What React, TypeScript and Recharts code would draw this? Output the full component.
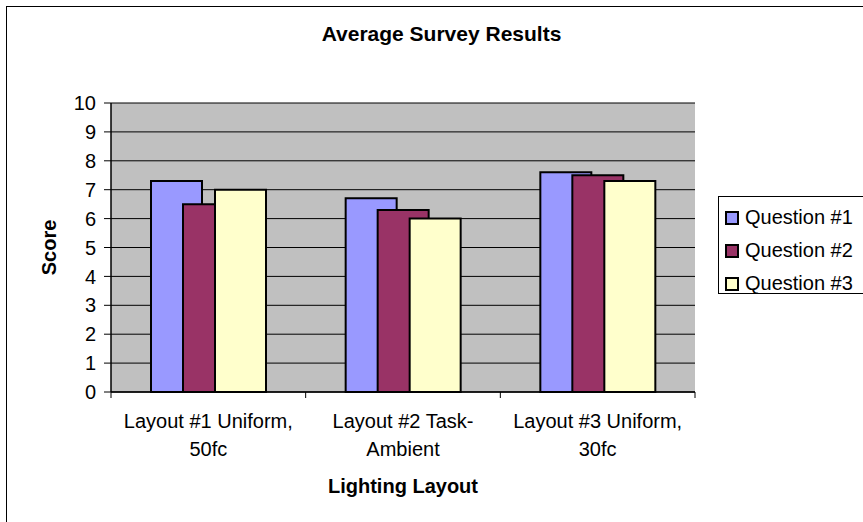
import React from 'react';
import { BarChart, Bar, XAxis, YAxis, CartesianGrid, Legend } from 'recharts';

const layouts = ['Layout #1 Uniform, 50fc', 'Layout #2 Task-Ambient', 'Layout #3 Uniform, 30fc'];
const layoutLines = [
  ['Layout #1 Uniform,', '50fc'],
  ['Layout #2 Task-', 'Ambient'],
  ['Layout #3 Uniform,', '30fc'],
];
const question1 = [7.3, 6.7, 7.6];
const question2 = [6.5, 6.3, 7.5];
const question3 = [7.0, 6.0, 7.3];
const seriesKeys = ['q1', 'q2', 'q3'];
const seriesNames = ['Question #1', 'Question #2', 'Question #3'];
const seriesColors = ['#9999FF', '#993366', '#FFFFCC'];
const scoreTicks = [0, 1, 2, 3, 4, 5, 6, 7, 8, 9, 10];

const data = layouts.map((name, i) => ({
  name,
  q1: question1[i],
  q2: question2[i],
  q3: question3[i],
}));

const FONT = '"Liberation Sans", Arial, sans-serif';
const W = 863;
const H = 522;
const LEGEND_W = 160;

function LayoutTick(props: any) {
  const { x, y, payload } = props;
  const idx = layouts.indexOf(payload.value);
  const lines = layoutLines[idx] || [payload.value];
  const half = payload.offset || 0;
  return (
    <g>
      <line x1={x - half} y1={y} x2={x - half} y2={y + 6} stroke="#000" strokeWidth={1} />
      {idx === layouts.length - 1 && (
        <line x1={x + half} y1={y} x2={x + half} y2={y + 6} stroke="#000" strokeWidth={1} />
      )}
      <text x={x} y={y + 36} textAnchor="middle" fontSize={20} fontFamily={FONT} fill="#000">
        {lines[0]}
      </text>
      {lines[1] && (
        <text x={x} y={y + 64} textAnchor="middle" fontSize={20} fontFamily={FONT} fill="#000">
          {lines[1]}
        </text>
      )}
    </g>
  );
}

function ScoreLabel(props: any) {
  const { x, y, height } = props.viewBox;
  const cx = x - 2;
  const cy = y + height / 2;
  return (
    <text
      x={cx}
      y={cy}
      transform={`rotate(-90 ${cx} ${cy})`}
      textAnchor="middle"
      dominantBaseline="central"
      fontSize={20}
      fontWeight="bold"
      fontFamily={FONT}
      fill="#000"
    >
      Score
    </text>
  );
}

function LegendBox() {
  return (
    <div
      style={{
        border: '1px solid #000',
        background: '#fff',
        width: LEGEND_W,
        height: 98,
        boxSizing: 'border-box',
        paddingTop: 4,
        fontFamily: FONT,
        fontSize: 20,
      }}
    >
      {seriesNames.map((n, i) => (
        <div key={n} style={{ display: 'flex', alignItems: 'center', height: 33, paddingLeft: 6 }}>
          <span
            style={{
              display: 'inline-block',
              width: 14,
              height: 14,
              boxSizing: 'border-box',
              border: '2px solid #000',
              background: seriesColors[i],
              marginRight: 6,
            }}
          />
          <span>{n}</span>
        </div>
      ))}
    </div>
  );
}

export default function App() {
  return (
    <div
      style={{
        position: 'fixed',
        left: 0,
        top: 0,
        width: W,
        height: H,
        overflow: 'hidden',
        background: '#fff',
      }}
    >
      <div
        style={{
          position: 'absolute',
          left: 6,
          top: 6,
          width: 880,
          height: 540,
          border: '1px solid #000',
        }}
      />
      <div style={{ position: 'absolute', left: 0, top: 0 }}>
        <BarChart
          width={W}
          height={H}
          data={data}
          barGap={-19}
          margin={{ top: 103, right: 168 - LEGEND_W, left: 51, bottom: 20 }}
        >
          <CartesianGrid vertical={false} stroke="#000" fill="#C0C0C0" fillOpacity={1} />
          <XAxis
            dataKey="name"
            height={110}
            interval={0}
            tickLine={false}
            tickSize={0}
            tickMargin={0}
            tick={<LayoutTick />}
            axisLine={{ stroke: '#000', strokeWidth: 1.5 }}
            label={{
              value: 'Lighting Layout',
              position: 'insideBottom',
              offset: 9,
              fontSize: 20,
              fontWeight: 'bold',
              fontFamily: FONT,
              fill: '#000',
            }}
          />
          <XAxis
            xAxisId="top"
            orientation="top"
            dataKey="name"
            height={0}
            tick={false}
            tickLine={false}
            axisLine={{ stroke: '#808080', strokeWidth: 2 }}
          />
          <YAxis
            domain={[0, 10]}
            ticks={scoreTicks}
            interval={0}
            width={60}
            tickSize={7}
            tickMargin={8}
            tick={{ fontSize: 20, fontFamily: FONT, fill: '#000' }}
            tickLine={{ stroke: '#000' }}
            axisLine={{ stroke: '#000', strokeWidth: 1.5 }}
            label={<ScoreLabel />}
          />
          <YAxis
            yAxisId="border"
            orientation="right"
            domain={[0, 10]}
            width={0}
            tick={false}
            tickLine={false}
            axisLine={{ stroke: '#808080', strokeWidth: 2 }}
          />
          <Legend
            layout="horizontal"
            align="right"
            verticalAlign="middle"
            content={<LegendBox />}
            wrapperStyle={{ left: 718, top: 196, width: LEGEND_W, height: 98 }}
          />
          {seriesKeys.map((k, i) => (
            <Bar
              key={k}
              dataKey={k}
              name={seriesNames[i]}
              fill={seriesColors[i]}
              stroke="#000"
              strokeWidth={2}
              barSize={51}
              isAnimationActive={false}
            />
          ))}
        </BarChart>
      </div>
      <div
        style={{
          position: 'absolute',
          left: 0,
          top: 22,
          width: 883,
          textAlign: 'center',
          fontFamily: FONT,
          fontSize: 21,
          fontWeight: 'bold',
          lineHeight: '24px',
          color: '#000',
        }}
      >
        Average Survey Results
      </div>
    </div>
  );
}
